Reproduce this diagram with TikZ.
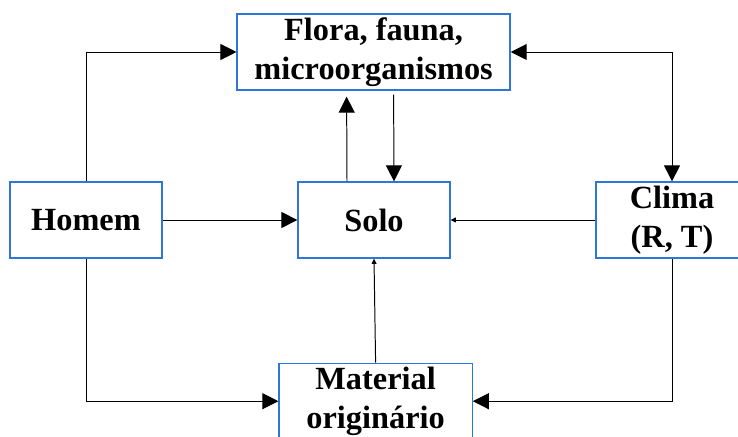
\documentclass[tikz,border=0pt]{standalone}
\usepackage{fontspec}
\setmainfont{Liberation Serif}
\usetikzlibrary{arrows.meta}
\definecolor{boxblue}{RGB}{45,120,215}
\begin{document}
\begin{tikzpicture}[
	box/.style={draw=boxblue,line width=0.9pt,align=center,inner sep=0pt,minimum height=1.9cm,font=\fontsize{23}{27.5}\selectfont\bfseries},
	bigarr/.style={line width=0.7pt,-{Triangle[length=0.4cm,width=0.4cm]}},
	bothbig/.style={line width=0.7pt,{Triangle[length=0.4cm,width=0.4cm]}-{Triangle[length=0.4cm,width=0.4cm]}},
	smallarr/.style={line width=0.7pt,-{Triangle[length=0.13cm,width=0.12cm]}}]
		\useasboundingbox (0,0) rectangle (18.45,-10.925);
		\node[box,minimum width=6.825cm] (flora) at (9.34,-1.3) {Flora, fauna,\\microorganismos};
		\node[box,minimum width=3.8cm] (homem) at (2.15,-5.5) {Homem};
		\node[box,minimum width=3.8cm] (solo) at (9.35,-5.5) {Solo};
		\node[box,minimum width=3.8cm] (clima) at (16.8,-5.5) {Clima\\(R, T)};
		\node[box,minimum width=4.83cm] (material) at (9.39,-10.03) {Material\\origin\'ario};
		\draw[bigarr] (homem.north) |- (flora.west);
		\draw[bothbig] (flora.east) -| (clima.north);
		\draw[bigarr] ([xshift=-0.675cm]solo.north) -- ([xshift=-0.675cm,yshift=-0.15cm]flora.south);
		\draw[bigarr] ([xshift=0.5cm,yshift=-0.1cm]flora.south) -- ([xshift=0.5cm]solo.north);
		\draw[bigarr] (homem.east) -- (solo.west);
		\draw[smallarr] (clima.west) -- (solo.east);
		\draw[smallarr] (material.north) -- (solo.south);
		\draw[bigarr] (homem.south) |- (material.west);
		\draw[bigarr] (clima.south) |- (material.east);
\end{tikzpicture}
\end{document}
